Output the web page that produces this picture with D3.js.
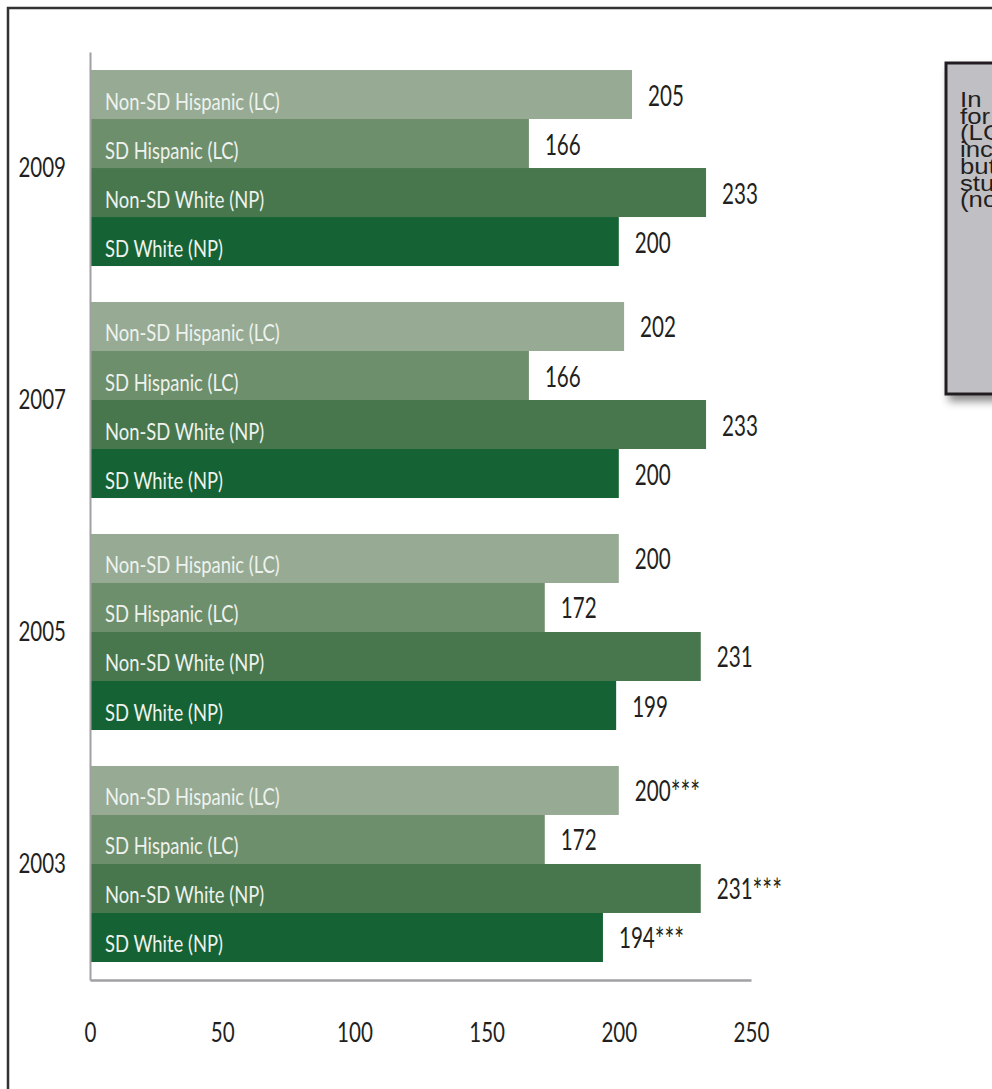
<!DOCTYPE html>
<html><head><meta charset="utf-8">
<script src="https://cdn.jsdelivr.net/npm/d3@7"></script>
<style>html,body{margin:0;padding:0;background:#fff;overflow:hidden}</style>
</head><body>
<script>
// ---- data ----
const years = ["2009", "2007", "2005", "2003"];
const groups = ["Non-SD Hispanic (LC)", "SD Hispanic (LC)", "Non-SD White (NP)", "SD White (NP)"];
const values2009 = [205, 166, 233, 200];
const values2007 = [202, 166, 233, 200];
const values2005 = [200, 172, 231, 199];
const values2003 = [200, 172, 231, 194];
const marks2009 = ["", "", "", ""];
const marks2007 = ["", "", "", ""];
const marks2005 = ["", "", "", ""];
const marks2003 = ["***", "", "***", "***"];
const xTicks = [0, 50, 100, 150, 200, 250];
const noteFirstWords = ["In", "for", "(LC)", "increased", "but", "students", "(not"];
const noteRestWords = ["2009, the gap", "Hispanic students", "narrowed and", "slightly,", "for White", "with disabilities", "significant)."];
const colors = ["#97ab94", "#6e8f6b", "#48774d", "#156234"];

const valuesByYear = {"2009": values2009, "2007": values2007, "2005": values2005, "2003": values2003};
const marksByYear = {"2009": marks2009, "2007": marks2007, "2005": marks2005, "2003": marks2003};
const rows = [];
years.forEach(y => groups.forEach((g, i) => rows.push({year: y, group: g, i, value: valuesByYear[y][i], mark: marksByYear[y][i]})));

const W = 992, H = 1089;
const svg = d3.select("body").append("svg").attr("width", W).attr("height", H);

const defs = svg.append("defs");
const f = defs.append("filter").attr("id", "shadow").attr("x", "-20%").attr("y", "-20%").attr("width", "150%").attr("height", "150%");
f.append("feDropShadow").attr("dx", 4).attr("dy", 6).attr("stdDeviation", 4).attr("flood-color", "#000").attr("flood-opacity", 0.45);

// outer frame
svg.append("rect").attr("x", 8).attr("y", 8).attr("width", 1000).attr("height", 1100)
  .attr("fill", "none").attr("stroke", "#333").attr("stroke-width", 2.5);

const x = d3.scaleLinear().domain([0, 250]).range([90, 751]);
const yBand = d3.scaleBand().domain(years).range([52, 980]).paddingInner(0.155).paddingOuter(0.0776);
const yInner = d3.scaleBand().domain(groups).range([0, yBand.bandwidth()]);

const calibri = "Lato, 'Open Sans', sans-serif";

// bars
const g = svg.append("g");
g.selectAll("rect.bar").data(rows).join("rect").attr("class", "bar")
  .attr("x", x(0)).attr("y", d => yBand(d.year) + yInner(d.group))
  .attr("width", d => x(d.value) - x(0)).attr("height", yInner.bandwidth())
  .attr("fill", d => colors[d.i]);

// in-bar labels
g.selectAll("text.cat").data(rows).join("text").attr("class", "cat")
  .attr("transform", d => `translate(${x(0) + 15},${yBand(d.year) + yInner(d.group) + yInner.bandwidth() / 2 + 15}) scale(1,1.27)`)
  .attr("font-family", calibri).attr("font-weight", 400).attr("font-size", 18.4).attr("fill", "#eef2ee")
  .text(d => d.group);

// value labels
g.selectAll("text.val").data(rows).join("text").attr("class", "val")
  .attr("transform", d => `translate(${x(d.value) + 16},${yBand(d.year) + yInner(d.group) + yInner.bandwidth() / 2 + 11}) scale(1,1.4)`)
  .attr("font-family", calibri).attr("font-weight", 400).attr("font-size", 20.6).attr("fill", "#231f20")
  .each(function(d) {
    const t = d3.select(this);
    t.append("tspan").text(d.value);
    if (d.mark) t.append("tspan").attr("font-size", 23).attr("dy", 2).text(d.mark);
  });

// y axis
const yAxis = svg.append("g").attr("transform", "translate(90,0)")
  .call(d3.axisLeft(yBand).tickSize(0).tickSizeOuter(0));
yAxis.select(".domain").attr("stroke", "#a0a0a5").attr("stroke-width", 2);
yAxis.selectAll(".tick text").attr("x", null).attr("dy", null)
  .attr("transform", "translate(-24,9) scale(1,1.36)")
  .attr("font-family", calibri).attr("font-weight", 400).attr("font-size", 20.5).attr("fill", "#231f20");

// x axis
const xAxis = svg.append("g").attr("transform", "translate(0,980)")
  .call(d3.axisBottom(x).tickValues(xTicks).tickSize(0).tickSizeOuter(0));
xAxis.select(".domain").attr("stroke", "#a0a0a5").attr("stroke-width", 2.5);
xAxis.selectAll(".tick text").attr("y", null).attr("dy", null)
  .attr("transform", "translate(0,62) scale(1,1.33)")
  .attr("font-family", calibri).attr("font-weight", 400).attr("font-size", 20.6).attr("fill", "#231f20");
svg.selectAll(".tick line").remove();

// note box
const note = svg.append("g");
note.append("rect").attr("x", 946).attr("y", 63).attr("width", 120).attr("height", 331)
  .attr("fill", "#c0bfc4").attr("stroke", "#231f20").attr("stroke-width", 3).attr("filter", "url(#shadow)");
note.selectAll("text").data(noteFirstWords).join("text")
  .attr("transform", (d, i) => `translate(960,${107 + i * 16.7}) scale(1.12,1)`)
  .attr("font-family", "'Liberation Sans', Arial, sans-serif").attr("font-size", 23).attr("fill", "#231f20")
  .each(function(d, i) {
    const t = d3.select(this);
    t.append("tspan").text(d);
    t.append("tspan").attr("dx", 40).text(noteRestWords[i]);
  });
</script>
</body></html>
